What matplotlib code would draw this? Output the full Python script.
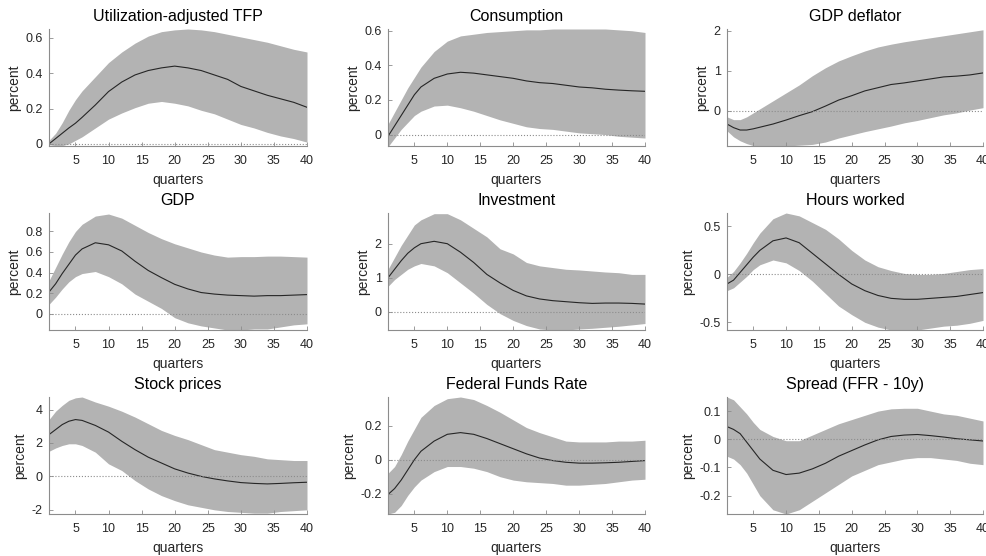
import numpy as np
import matplotlib
matplotlib.use('Agg')
import matplotlib.pyplot as plt

plt.rcParams['font.family'] = ['Liberation Sans', 'DejaVu Sans']

quarters = [1, 2, 3, 4, 5, 6, 8, 10, 12, 14, 16, 18, 20, 22, 24, 26, 28, 30, 32, 34, 36, 38, 40]

titles = ['Utilization-adjusted TFP', 'Consumption', 'GDP deflator',
          'GDP', 'Investment', 'Hours worked',
          'Stock prices', 'Federal Funds Rate', 'Spread (FFR - 10y)']

# Utilization-adjusted TFP
tfp_mid = [0.0, 0.03, 0.06, 0.09, 0.117, 0.15, 0.22, 0.296, 0.35, 0.39, 0.415, 0.43, 0.44, 0.43,
           0.415, 0.39, 0.365, 0.325, 0.30, 0.275, 0.255, 0.235, 0.207]
tfp_hi = [0.02, 0.06, 0.12, 0.19, 0.25, 0.30, 0.38, 0.46, 0.52, 0.57, 0.61, 0.635, 0.645, 0.65,
          0.645, 0.635, 0.62, 0.605, 0.59, 0.575, 0.555, 0.535, 0.52]
tfp_lo = [-0.005, -0.01, -0.01, 0.0, 0.02, 0.04, 0.09, 0.14, 0.175, 0.205, 0.23, 0.24, 0.23, 0.215,
          0.19, 0.17, 0.14, 0.11, 0.09, 0.065, 0.045, 0.03, 0.01]

# Consumption
cons_mid = [-0.01, 0.05, 0.11, 0.17, 0.23, 0.275, 0.325, 0.35, 0.36, 0.355, 0.345, 0.335, 0.325, 0.31,
            0.30, 0.295, 0.285, 0.275, 0.27, 0.262, 0.257, 0.253, 0.25]
cons_hi = [0.06, 0.13, 0.20, 0.27, 0.33, 0.39, 0.48, 0.54, 0.57, 0.58, 0.59, 0.595, 0.60, 0.605,
           0.605, 0.61, 0.61, 0.61, 0.61, 0.61, 0.605, 0.60, 0.59]
cons_lo = [-0.07, -0.02, 0.03, 0.07, 0.11, 0.135, 0.165, 0.17, 0.155, 0.135, 0.11, 0.085, 0.065, 0.045,
           0.035, 0.03, 0.02, 0.01, 0.005, 0.0, -0.01, -0.015, -0.02]

# GDP deflator
defl_mid = [-0.33, -0.42, -0.48, -0.48, -0.45, -0.41, -0.33, -0.23, -0.12, -0.02, 0.12, 0.27, 0.38, 0.5,
            0.58, 0.66, 0.70, 0.75, 0.80, 0.85, 0.87, 0.90, 0.95]
defl_hi = [-0.15, -0.22, -0.22, -0.15, -0.05, 0.05, 0.25, 0.45, 0.65, 0.88, 1.08, 1.25, 1.38, 1.5,
           1.6, 1.67, 1.73, 1.78, 1.83, 1.88, 1.93, 1.98, 2.03]
defl_lo = [-0.5, -0.65, -0.75, -0.82, -0.87, -0.9, -0.9, -0.88, -0.86, -0.84, -0.78, -0.68, -0.6, -0.52,
           -0.45, -0.38, -0.3, -0.24, -0.17, -0.1, -0.05, 0.02, 0.08]

# GDP
gdp_mid = [0.21, 0.29, 0.39, 0.48, 0.57, 0.63, 0.69, 0.67, 0.61, 0.51, 0.42, 0.35, 0.285, 0.24,
           0.205, 0.19, 0.18, 0.175, 0.17, 0.175, 0.175, 0.18, 0.185]
gdp_hi = [0.32, 0.45, 0.58, 0.70, 0.80, 0.87, 0.95, 0.97, 0.93, 0.86, 0.79, 0.73, 0.68, 0.64,
          0.60, 0.57, 0.55, 0.555, 0.555, 0.56, 0.56, 0.555, 0.55]
gdp_lo = [0.09, 0.16, 0.24, 0.31, 0.36, 0.39, 0.41, 0.36, 0.29, 0.19, 0.12, 0.05, -0.04, -0.09,
          -0.12, -0.14, -0.16, -0.16, -0.15, -0.15, -0.13, -0.11, -0.10]

# Investment
inv_mid = [1.0, 1.25, 1.5, 1.72, 1.88, 2.0, 2.07, 2.0, 1.75, 1.45, 1.1, 0.85, 0.63, 0.47,
           0.38, 0.33, 0.30, 0.27, 0.25, 0.26, 0.26, 0.25, 0.23]
inv_hi = [1.25, 1.6, 1.95, 2.25, 2.55, 2.7, 2.88, 2.88, 2.7, 2.45, 2.2, 1.85, 1.7, 1.45,
          1.35, 1.3, 1.25, 1.23, 1.2, 1.17, 1.15, 1.1, 1.1]
inv_lo = [0.75, 0.95, 1.1, 1.25, 1.35, 1.42, 1.35, 1.15, 0.85, 0.55, 0.22, -0.05, -0.25, -0.4,
          -0.5, -0.53, -0.53, -0.5, -0.48, -0.45, -0.42, -0.38, -0.34]

# Hours worked
hrs_mid = [-0.1, -0.06, 0.02, 0.1, 0.18, 0.25, 0.35, 0.38, 0.33, 0.22, 0.11, 0.0, -0.1, -0.17,
           -0.22, -0.25, -0.26, -0.26, -0.25, -0.24, -0.23, -0.21, -0.19]
hrs_hi = [-0.03, 0.03, 0.12, 0.22, 0.33, 0.43, 0.58, 0.64, 0.61, 0.54, 0.47, 0.37, 0.25, 0.15,
          0.08, 0.04, 0.01, 0.0, 0.0, 0.01, 0.03, 0.05, 0.06]
hrs_lo = [-0.17, -0.14, -0.08, -0.02, 0.05, 0.1, 0.15, 0.12, 0.04, -0.07, -0.2, -0.33, -0.42, -0.5,
          -0.55, -0.58, -0.6, -0.58, -0.56, -0.54, -0.53, -0.51, -0.48]

# Stock prices
stk_mid = [2.5, 2.8, 3.1, 3.3, 3.4, 3.35, 3.05, 2.65, 2.1, 1.6, 1.15, 0.8, 0.45, 0.2,
           0.0, -0.15, -0.27, -0.37, -0.42, -0.45, -0.42, -0.38, -0.35]
stk_hi = [3.4, 3.9, 4.25, 4.55, 4.7, 4.75, 4.45, 4.2, 3.9, 3.55, 3.15, 2.75, 2.45, 2.2,
          1.9, 1.6, 1.45, 1.3, 1.2, 1.05, 1.0, 0.95, 0.95]
stk_lo = [1.5, 1.7, 1.85, 1.95, 1.95, 1.85, 1.45, 0.75, 0.35, -0.25, -0.75, -1.15, -1.45, -1.7,
          -1.85, -2.0, -2.1, -2.15, -2.2, -2.2, -2.1, -2.05, -2.0]

# Federal Funds Rate
ffr_mid = [-0.205, -0.17, -0.12, -0.06, 0.0, 0.05, 0.11, 0.15, 0.16, 0.15, 0.125, 0.095, 0.065, 0.035,
           0.01, -0.005, -0.015, -0.02, -0.02, -0.018, -0.015, -0.01, -0.005]
ffr_hi = [-0.08, -0.04, 0.03, 0.11, 0.18, 0.25, 0.32, 0.36, 0.37, 0.355, 0.32, 0.28, 0.235, 0.19,
          0.16, 0.135, 0.11, 0.105, 0.105, 0.105, 0.11, 0.11, 0.115]
ffr_lo = [-0.32, -0.31, -0.27, -0.21, -0.16, -0.12, -0.07, -0.04, -0.04, -0.05, -0.07, -0.1, -0.12, -0.13,
          -0.135, -0.14, -0.15, -0.15, -0.145, -0.14, -0.13, -0.12, -0.115]

# Spread (FFR - 10y)
spr_mid = [0.045, 0.035, 0.02, -0.01, -0.04, -0.07, -0.11, -0.125, -0.12, -0.105, -0.085, -0.06, -0.04, -0.02,
           -0.002, 0.01, 0.015, 0.017, 0.013, 0.008, 0.002, -0.002, -0.006]
spr_hi = [0.15, 0.14, 0.115, 0.09, 0.06, 0.035, 0.01, -0.005, -0.005, 0.015, 0.035, 0.055, 0.07, 0.085,
          0.1, 0.108, 0.11, 0.11, 0.1, 0.09, 0.085, 0.075, 0.065]
spr_lo = [-0.06, -0.07, -0.09, -0.12, -0.16, -0.2, -0.25, -0.265, -0.25, -0.22, -0.19, -0.16, -0.13, -0.11,
          -0.09, -0.08, -0.07, -0.065, -0.065, -0.07, -0.075, -0.085, -0.09]

mids = [tfp_mid, cons_mid, defl_mid, gdp_mid, inv_mid, hrs_mid, stk_mid, ffr_mid, spr_mid]
his = [tfp_hi, cons_hi, defl_hi, gdp_hi, inv_hi, hrs_hi, stk_hi, ffr_hi, spr_hi]
los = [tfp_lo, cons_lo, defl_lo, gdp_lo, inv_lo, hrs_lo, stk_lo, ffr_lo, spr_lo]

ylims = [(-0.012, 0.65), (-0.066, 0.61), (-0.88, 2.05),
         (-0.16, 0.98), (-0.53, 2.9), (-0.58, 0.64),
         (-2.25, 4.75), (-0.32, 0.37), (-0.265, 0.15)]
yticks = [[0, 0.2, 0.4, 0.6], [0, 0.2, 0.4, 0.6], [0, 1, 2],
          [0, 0.2, 0.4, 0.6, 0.8], [0, 1, 2], [-0.5, 0, 0.5],
          [-2, 0, 2, 4], [-0.2, 0, 0.2], [-0.2, -0.1, 0, 0.1]]

W, H = 987, 556
fig = plt.figure(figsize=(W / 100, H / 100), dpi=100)

# axes boxes in pixels: left, top, right, bottom
lefts = [49, 388, 727]
rights = [307, 645, 983]
tops = [29, 213, 397]
bottoms = [146, 330, 514]

band_col = '#b3b3b3'
spine_col = '#8c8c8c'
text_col = '#262626'

for i in range(9):
    r, c = divmod(i, 3)
    x0, x1 = lefts[c], rights[c]
    y0, y1 = tops[r], bottoms[r]
    ax = fig.add_axes([x0 / W, 1 - y1 / H, (x1 - x0) / W, (y1 - y0) / H])
    ax.fill_between(quarters, los[i], his[i], color=band_col, linewidth=0)
    ax.plot(quarters, mids[i], color='#262626', linewidth=0.8)
    ax.axhline(0, color='#8c8c8c', linestyle=':', linewidth=0.8)
    ax.set_xlim(1, 40)
    ax.set_ylim(*ylims[i])
    ax.set_xticks([5, 10, 15, 20, 25, 30, 35, 40])
    ax.set_yticks(yticks[i])
    ax.set_yticklabels([('%g' % v) for v in yticks[i]])
    ax.set_title(titles[i], fontsize=11.5, pad=6, color='black')
    ax.set_ylabel('percent', fontsize=10, color=text_col, labelpad=3)
    ax.set_xlabel('quarters', fontsize=10, color=text_col, labelpad=4)
    for s in ['top', 'right']:
        ax.spines[s].set_visible(False)
    for s in ['left', 'bottom']:
        ax.spines[s].set_color(spine_col)
        ax.spines[s].set_linewidth(0.8)
    ax.tick_params(direction='in', length=3, width=0.6, color=spine_col,
                   labelsize=9, labelcolor=text_col)
    ax.tick_params(axis='x', pad=6.5)
    ax.tick_params(axis='y', pad=4.5)
    ax.set_facecolor('white')

fig.savefig('out.png', dpi=100)
